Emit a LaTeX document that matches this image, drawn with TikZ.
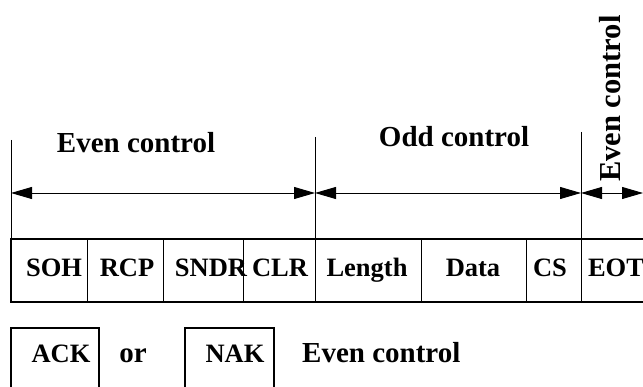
\documentclass[tikz,border=0pt]{standalone}
\usepackage{fontspec}
\setmainfont{Liberation Serif}
\usetikzlibrary{arrows.meta}
\begin{document}
\begin{tikzpicture}[x=1pt,y=-1pt,
  cell/.style={inner sep=0pt,anchor=base,font=\fontsize{26.5}{30}\selectfont\bfseries},
  lab/.style={inner sep=0pt,font=\fontsize{29}{33}\selectfont\bfseries},
  thin/.style={line width=0.9pt},
  thick/.style={line width=1.7pt},
  span/.style={line width=0.9pt,{Triangle[length=21pt,width=12pt]}-{Triangle[length=21pt,width=12pt]}}]
\useasboundingbox (0,0) rectangle (643,387);
\clip (0,0) rectangle (643,387);
% table
\draw[thick] (643,239) -- (11,239) -- (11,302) -- (643,302);
\foreach \x in {87,163,243,315,421,526,581} \draw[thin] (\x,239) -- (\x,302);
% tick lines
\coordinate (k0) at (11,140);
\coordinate (k1) at (315,137);
\coordinate (k2) at (581,132);
\draw[thin] (k0) -- (11,239);
\draw[thin] (k1) -- (315,239);
\draw[thin] (k2) -- (581,239);
% arrow anchors
\coordinate (a0) at (11,193);
\coordinate (a1) at (315,193);
\coordinate (a2) at (581,193);
\coordinate (a3) at (643,193);
\draw[span] (a0) -- (a1);
\draw[span] (a1) -- (a2);
\draw[span] (a2) -- (a3);
% labels
\node[lab,anchor=base] (even1) at (136,153) {Even control};
\node[lab,anchor=base] (odd) at (454,147) {Odd control};
\node[lab,font=\fontsize{30.5}{34}\selectfont\bfseries,rotate=90,anchor=base west] (even2) at (620,182) {Even control};
% cells
\node[cell] (soh) at (54,277) {SOH};
\node[cell] (rcp) at (127,277) {RCP};
\node[cell] (sndr) at (211,277) {SNDR};
\node[cell] (clr) at (280,277) {CLR};
\node[cell] (len) at (367,277) {Length};
\node[cell] (data) at (473,277) {Data};
\node[cell] (cs) at (550,277) {CS};
\node[cell] (eot) at (616,277) {EOT};
% bottom
\draw[thick] (11,400) -- (11,328) -- (99,328) -- (99,400);
\draw[thick] (185,400) -- (185,328) -- (274,328) -- (274,400);
\node[cell] (ack) at (61,363) {ACK};
\node[lab,anchor=base] (or) at (133,363) {or};
\node[cell] (nak) at (235,363) {NAK};
\node[lab,anchor=base west] (even3) at (302,363) {Even control};
\end{tikzpicture}
\end{document}
